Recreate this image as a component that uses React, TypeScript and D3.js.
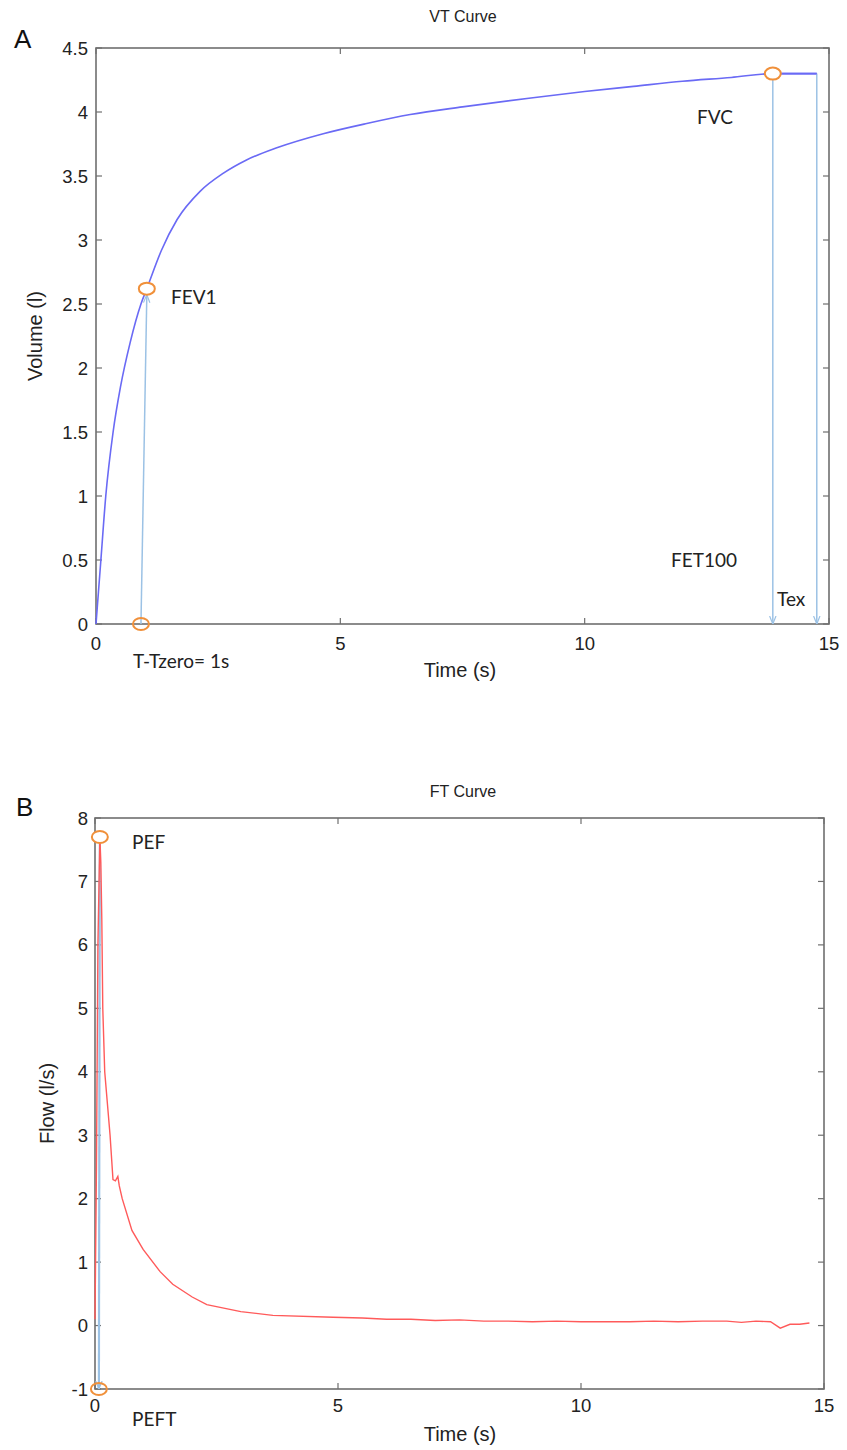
import React from "react";
import * as d3 from "d3";

// ---- Data ----
const vtTime = [0, 0.05, 0.1, 0.2, 0.35, 0.5, 0.7, 0.92, 1.04, 1.34, 1.66, 2.13, 2.6, 3.08, 3.7, 4.65, 5.54, 6.43, 7.5, 8.9, 10, 11, 12, 13, 13.85, 14.75];
const vtVolume = [0, 0.25, 0.5, 1.0, 1.5, 1.85, 2.2, 2.5, 2.62, 2.92, 3.16, 3.38, 3.52, 3.625, 3.72, 3.83, 3.91, 3.98, 4.04, 4.11, 4.16, 4.2, 4.24, 4.27, 4.3, 4.3];

const ftTime = [0, 0.03, 0.06, 0.1, 0.12, 0.14, 0.16, 0.2, 0.31, 0.37, 0.42, 0.47, 0.5, 0.56, 0.76, 0.99, 1.34, 1.6, 2.0, 2.3, 3.0, 3.66, 4.9, 5.5, 6, 6.5, 7, 7.5, 8, 8.5, 9, 9.5, 10, 10.5, 11, 11.5, 12, 12.5, 13, 13.3, 13.6, 13.9, 14.1, 14.3, 14.5, 14.7];
const ftFlow = [0.1, 2.5, 6.0, 7.7, 7.3, 6.4, 5.0, 4.0, 3.0, 2.3, 2.28, 2.35, 2.2, 2.0, 1.5, 1.2, 0.85, 0.65, 0.45, 0.33, 0.22, 0.16, 0.13, 0.12, 0.1, 0.1, 0.08, 0.09, 0.07, 0.07, 0.06, 0.07, 0.06, 0.06, 0.06, 0.07, 0.06, 0.07, 0.07, 0.05, 0.07, 0.06, -0.04, 0.02, 0.02, 0.04];

const vtYTicks = [0, 0.5, 1, 1.5, 2, 2.5, 3, 3.5, 4, 4.5];
const ftYTicks = [-1, 0, 1, 2, 3, 4, 5, 6, 7, 8];
const xTicks = [0, 5, 10, 15];

// annotation values
const fev1Base = { t: 0.92, v: 0 };
const fev1Point = { t: 1.04, v: 2.62 };
const fvcPoint = { t: 13.85, v: 4.3 };
const texTime = 14.75;
const pefPoint = { t: 0.1, v: 7.7 };
const peftPoint = { t: 0.08, v: -1 };

const AXIS = "#6f6f6f";
const TICKFONT = "'Liberation Sans', Arial, sans-serif";
const ANNFONT = "Lato, 'Open Sans', sans-serif";
const ARROW = "#9cc2e5";
const ORANGE = "#f0903a";

function Ticks({ x, y, xt, yt }: any) {
  const [x0, x1] = x.range();
  const [y0, y1] = y.range();
  const L = 6;
  return (
    <g stroke={AXIS} strokeWidth={1.2}>
      {xt.map((t: number) => (
        <g key={"x" + t}>
          <line x1={x(t)} x2={x(t)} y1={y0} y2={y0 - L} />
          <line x1={x(t)} x2={x(t)} y1={y1} y2={y1 + L} />
        </g>
      ))}
      {yt.map((t: number) => (
        <g key={"y" + t}>
          <line x1={x0} x2={x0 + L} y1={y(t)} y2={y(t)} />
          <line x1={x1} x2={x1 - L} y1={y(t)} y2={y(t)} />
        </g>
      ))}
      <rect x={x0} y={y1} width={x1 - x0} height={y0 - y1} fill="none" strokeWidth={1.6} />
    </g>
  );
}

export default function App() {
  // Panel A
  const xA = d3.scaleLinear().domain([0, 15]).range([96, 829]);
  const yA = d3.scaleLinear().domain([0, 4.5]).range([624, 48]);
  // Panel B
  const xB = d3.scaleLinear().domain([0, 15]).range([95, 824]);
  const yB = d3.scaleLinear().domain([-1, 8]).range([1389, 818]);

  const lineA = d3
    .line<number>()
    .x((_, i) => xA(vtTime[i]))
    .y((d) => yA(d))
    .curve(d3.curveMonotoneX);
  const lineB = d3
    .line<number>()
    .x((_, i) => xB(ftTime[i]))
    .y((d) => yB(d))
    .curve(d3.curveLinear);

  const tickText = { fontFamily: TICKFONT, fontSize: 18.5, fill: "#222" } as any;
  const labText = { fontFamily: TICKFONT, fontSize: 20, fill: "#222" } as any;
  const ann = { fontFamily: ANNFONT, fontSize: 19, fill: "#222" } as any;

  return (
    <svg width={847} height={1450} style={{ position: "absolute", left: 0, top: 0, background: "#fff" }}>
      <defs>
        <marker id="arr" viewBox="0 0 10 10" refX={10} refY={5} markerWidth={8} markerHeight={8} orient="auto" markerUnits="userSpaceOnUse">
          <path d="M0,1 L10,5 L0,9" fill="none" stroke={ARROW} strokeWidth={1.5} />
        </marker>
      </defs>
      <rect x={0} y={0} width={847} height={1450} fill="#fff" />

      {/* ---------- Panel A ---------- */}
      <text x={14} y={48} fontFamily={TICKFONT} fontSize={26} fill="#111">A</text>
      <text x={463} y={22} textAnchor="middle" fontFamily={TICKFONT} fontSize={16} fill="#222">VT Curve</text>
      <Ticks x={xA} y={yA} xt={xTicks} yt={vtYTicks} />
      {vtYTicks.map((t) => (
        <text key={t} x={88} y={yA(t) + 6.5} textAnchor="end" {...tickText}>{t}</text>
      ))}
      {xTicks.map((t) => (
        <text key={t} x={xA(t)} y={650} textAnchor="middle" {...tickText}>{t}</text>
      ))}
      <text x={460} y={677} textAnchor="middle" {...labText}>Time (s)</text>
      <text transform={`translate(42,${yA(2.25)}) rotate(-90)`} textAnchor="middle" {...labText}>Volume (l)</text>

      <path d={lineA(vtVolume) || ""} fill="none" stroke="#6a6af5" strokeWidth={1.6} />
      {/* annotation arrows */}
      <line x1={xA(fev1Base.t)} y1={yA(fev1Base.v)} x2={xA(fev1Point.t)} y2={yA(fev1Point.v) + 6} stroke={ARROW} strokeWidth={1.5} markerEnd="url(#arr)" />
      <line x1={xA(fvcPoint.t)} y1={yA(fvcPoint.v) + 6} x2={xA(fvcPoint.t)} y2={yA(0)} stroke={ARROW} strokeWidth={1.5} markerEnd="url(#arr)" />
      <line x1={xA(texTime)} y1={yA(fvcPoint.v)} x2={xA(texTime)} y2={yA(0)} stroke={ARROW} strokeWidth={1.5} markerEnd="url(#arr)" />
      <line x1={xA(fvcPoint.t)} y1={yA(fvcPoint.v)} x2={xA(texTime)} y2={yA(fvcPoint.v)} stroke="#6a6af5" strokeWidth={1.6} />
      {/* markers */}
      <ellipse cx={xA(fev1Point.t)} cy={yA(fev1Point.v)} rx={8} ry={6} fill="#fff" stroke={ORANGE} strokeWidth={2} />
      <ellipse cx={xA(fev1Base.t)} cy={yA(fev1Base.v)} rx={8} ry={6} fill="none" stroke={ORANGE} strokeWidth={2} />
      <ellipse cx={xA(fvcPoint.t)} cy={yA(fvcPoint.v)} rx={8} ry={6} fill="#fff" stroke={ORANGE} strokeWidth={2} />
      {/* annotation text */}
      <text x={171} y={304} {...ann}>FEV1</text>
      <text x={133} y={668} {...ann}>T-Tzero= 1s</text>
      <text x={697} y={124} {...ann}>FVC</text>
      <text x={671} y={567} {...ann}>FET100</text>
      <text x={777} y={606} {...ann}>Tex</text>

      {/* ---------- Panel B ---------- */}
      <text x={16} y={816} fontFamily={TICKFONT} fontSize={26} fill="#111">B</text>
      <text x={463} y={797} textAnchor="middle" fontFamily={TICKFONT} fontSize={16} fill="#222">FT Curve</text>
      <Ticks x={xB} y={yB} xt={xTicks} yt={ftYTicks} />
      {ftYTicks.map((t) => (
        <text key={t} x={88} y={yB(t) + 6.5} textAnchor="end" {...tickText}>{t}</text>
      ))}
      {xTicks.map((t) => (
        <text key={t} x={xB(t)} y={1412} textAnchor="middle" {...tickText}>{t}</text>
      ))}
      <text x={460} y={1441} textAnchor="middle" {...labText}>Time (s)</text>
      <text transform={`translate(54,${yB(3.5)}) rotate(-90)`} textAnchor="middle" {...labText}>Flow (l/s)</text>

      <line x1={xB(pefPoint.t)} y1={yB(pefPoint.v) + 6} x2={xB(peftPoint.t)} y2={yB(peftPoint.v)} stroke={ARROW} strokeWidth={2.2} markerEnd="url(#arr)" />
      <path d={lineB(ftFlow) || ""} fill="none" stroke="#ff5a5a" strokeWidth={1.4} />
      <ellipse cx={xB(pefPoint.t)} cy={yB(pefPoint.v)} rx={8} ry={6} fill="#fff" stroke={ORANGE} strokeWidth={2} />
      <ellipse cx={xB(peftPoint.t)} cy={yB(peftPoint.v)} rx={8} ry={6} fill="none" stroke={ORANGE} strokeWidth={2} />
      <text x={132} y={849} {...ann}>PEF</text>
      <text x={132} y={1426} {...ann}>PEFT</text>
    </svg>
  );
}
